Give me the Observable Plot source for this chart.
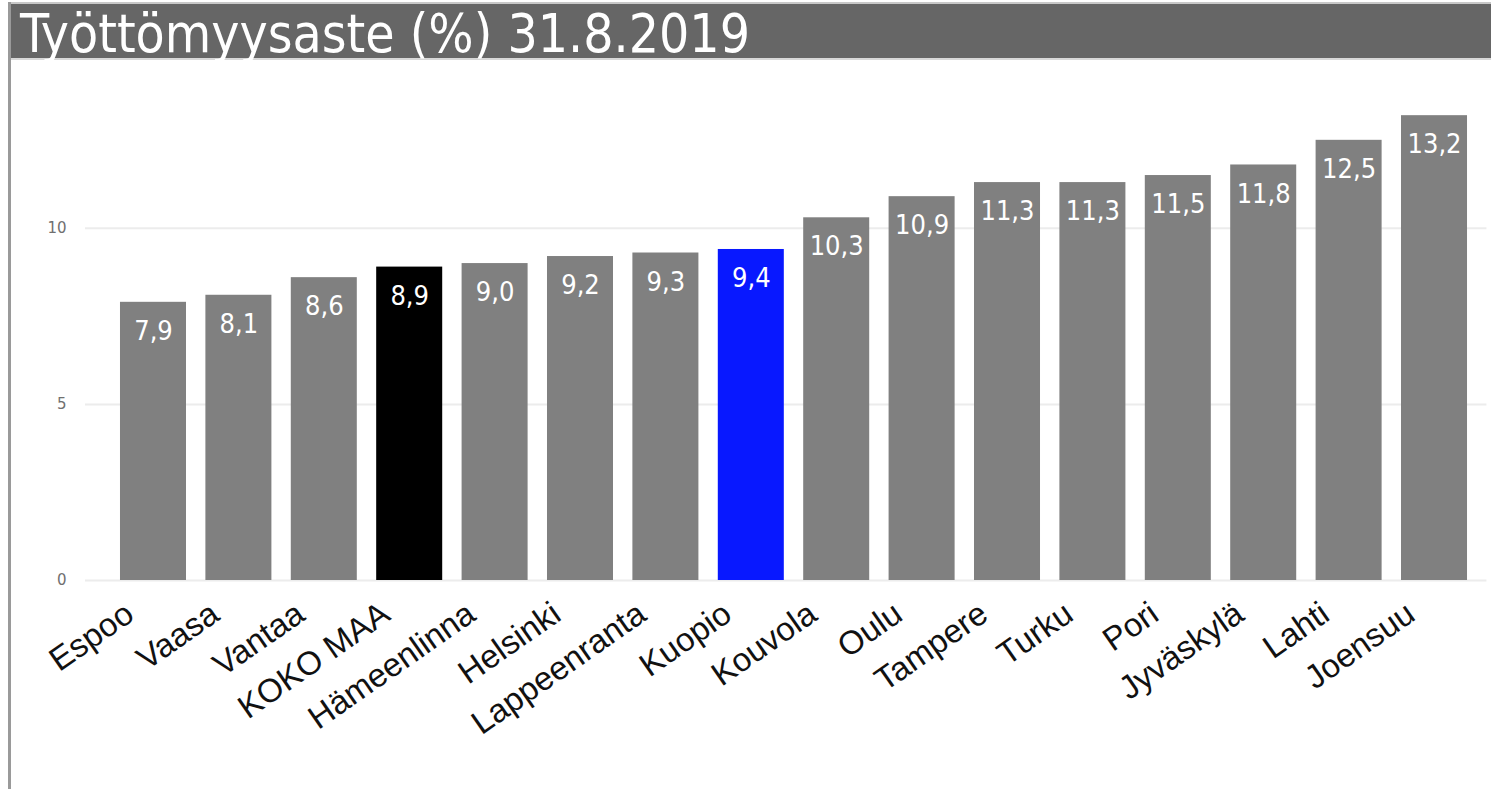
<!DOCTYPE html>
<html>
<head>
<meta charset="utf-8">
<script src="https://cdn.jsdelivr.net/npm/d3@7"></script>
<script src="https://cdn.jsdelivr.net/npm/@observablehq/plot@0.6"></script>
<style>
  html, body { margin: 0; padding: 0; background: #fff; width: 1491px; height: 789px; overflow: hidden; }
  #frame { position: absolute; left: 8px; top: 2px; width: 1480px; height: 787px; border-left: 3px solid #9a9a9a; }
  #title { position: relative; z-index: 2; height: 54px; background: #666666; border-top: 2px solid #c8c8c8; border-bottom: 2px solid #d8d8d8;
           color: #fff; font-family: "DejaVu Sans Condensed", "DejaVu Sans", sans-serif; font-size: 53px;
           line-height: 60px; padding-left: 9px; white-space: nowrap; overflow: visible; }
  #chart svg { display: block; }
</style>
</head>
<body>
<div id="frame">
  <div id="title">Työttömyysaste (%) 31.8.2019</div>
  <div id="chart"></div>
</div>
<script>
const cities = ["Espoo", "Vaasa", "Vantaa", "KOKO MAA", "Hämeenlinna", "Helsinki", "Lappeenranta", "Kuopio",
                "Kouvola", "Oulu", "Tampere", "Turku", "Pori", "Jyväskylä", "Lahti", "Joensuu"];
const rates = [7.9, 8.1, 8.6, 8.9, 9.0, 9.2, 9.3, 9.4, 10.3, 10.9, 11.3, 11.3, 11.5, 11.8, 12.5, 13.2];
const yTicks = [0, 5, 10];
const highlightNational = "KOKO MAA";
const highlightCity = "Kuopio";

const data = cities.map((name, i) => ({name, value: rates[i]}));
const colorOf = d => d.name === highlightNational ? "#000000" : d.name === highlightCity ? "#0818ff" : "#808080";

const plot = Plot.plot({
  width: 1480,
  height: 729,
  marginTop: 27,
  marginBottom: 209,
  marginLeft: 74,
  marginRight: 4.6,
  style: {background: "transparent", overflow: "visible"},
  x: {domain: cities, padding: 0.227, round: false, insetLeft: 15.6, axis: null, label: null},
  y: {domain: [0, 14], axis: null, label: null},
  marks: [
    Plot.ruleY(yTicks, {stroke: "#ececec", strokeWidth: 2}),
    Plot.axisY({ticks: yTicks, tickSize: 0, tickPadding: 19, fontSize: 15, fill: "#707070", label: null,
                fontFamily: "DejaVu Sans, sans-serif", tickFormat: d => String(d)}),
    Plot.barY(data, {x: "name", y: "value", fill: colorOf}),
    Plot.text(data, {x: "name", y: "value", text: d => d.value.toFixed(1).replace(".", ","),
                     dy: 29, lineAnchor: "middle", fill: "white", fontSize: 27,
                     fontFamily: "DejaVu Sans Condensed, DejaVu Sans, sans-serif"}),
    Plot.text(data, {x: "name", y: () => 0, text: "name", rotate: -35, textAnchor: "end", lineAnchor: "top",
                     dx: -31, dy: 19, fontSize: 33, fill: "#111",
                     fontFamily: "Liberation Sans, Arial, sans-serif"})
  ]
});
document.getElementById("chart").appendChild(plot);
</script>
</body>
</html>
